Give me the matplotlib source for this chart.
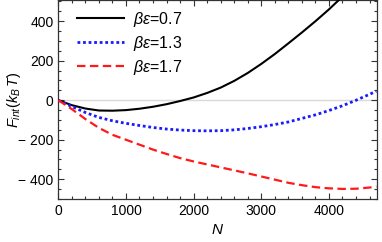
import matplotlib
matplotlib.use("Agg")
import matplotlib.pyplot as plt
from matplotlib.ticker import MultipleLocator, FuncFormatter

plt.rcParams['font.family'] = ['Liberation Sans', 'DejaVu Sans']
plt.rcParams['mathtext.fontset'] = 'custom'
plt.rcParams['mathtext.rm'] = 'Liberation Sans'
plt.rcParams['mathtext.it'] = 'Liberation Sans:italic'
plt.rcParams['mathtext.bf'] = 'Liberation Sans:bold'

# Data
N = [0, 200, 400, 600, 800, 1000, 1200, 1400, 1600, 1800, 2000, 2200, 2400,
     2600, 2800, 3000, 3200, 3400, 3600, 3800, 4000, 4200, 4400, 4600, 4700]
F_07 = [0, -25, -42, -52, -53, -50, -43, -33, -20, -4, 14, 37, 64,
        98, 138, 184, 234, 288, 343, 400, 460, 525, 590, 660, 700]
F_13 = [0, -32, -62, -87, -104, -117, -128, -138, -146, -151, -154, -155, -154,
        -150, -143, -134, -123, -110, -92, -74, -52, -28, 0, 30, 46]
F_17 = [0, -45, -95, -140, -175, -200, -225, -250, -272, -293, -310, -325, -340,
        -355, -370, -386, -402, -418, -430, -440, -446, -449, -448, -442, -437]
labels = [r"$\beta\varepsilon$=0.7", r"$\beta\varepsilon$=1.3", r"$\beta\varepsilon$=1.7"]

fig = plt.figure(figsize=(3.82, 2.42), dpi=100)
ax = fig.add_axes([58.3/382, 1-199/242, (377-58.3)/382, 199/242 - 0.002])

ax.axhline(0, color='#d9d9d9', lw=1.0, zorder=1)
ax.plot(N, F_07, color='black', lw=1.5, label=labels[0], zorder=3)
ax.plot(N, F_13, color='#1a1aff', lw=2.0, ls=(0, (1, 1)), label=labels[1], zorder=3)
ax.plot(N, F_17, color='#ff1a1a', lw=1.6, ls=(0, (3.8, 2)), label=labels[2], zorder=3)

ax.set_xlim(0, 4710)
ax.set_ylim(-500, 505)
ax.xaxis.set_major_locator(MultipleLocator(1000))
ax.xaxis.set_minor_locator(MultipleLocator(200))
ax.yaxis.set_major_locator(MultipleLocator(200))
ax.yaxis.set_minor_locator(MultipleLocator(50))

def fmt(v, pos):
    v = int(round(v))
    return "\u2212 " + str(-v) if v < 0 else str(v)
ax.yaxis.set_major_formatter(FuncFormatter(fmt))

ax.tick_params(which='both', direction='in', top=True, right=True, labelsize=10,
               color='#333333', width=0.8)
ax.tick_params(which='major', length=4)
ax.tick_params(which='minor', length=2.2)
for s in ax.spines.values():
    s.set_color('#333333')
    s.set_linewidth(0.9)

ax.set_xlabel("$N$", fontsize=11, labelpad=4)
ax.set_ylabel(r"$F_{int}(k_B\,T)$", fontsize=10.5)
ax.yaxis.set_label_coords(-0.11, 0.5)

ax.legend(loc='upper left', bbox_to_anchor=(0.025, 1.01), frameon=False,
          fontsize=11.5, handlelength=2.9, labelspacing=0.32, borderaxespad=0.3,
          handletextpad=0.6)

fig.savefig("out.png", dpi=100)
